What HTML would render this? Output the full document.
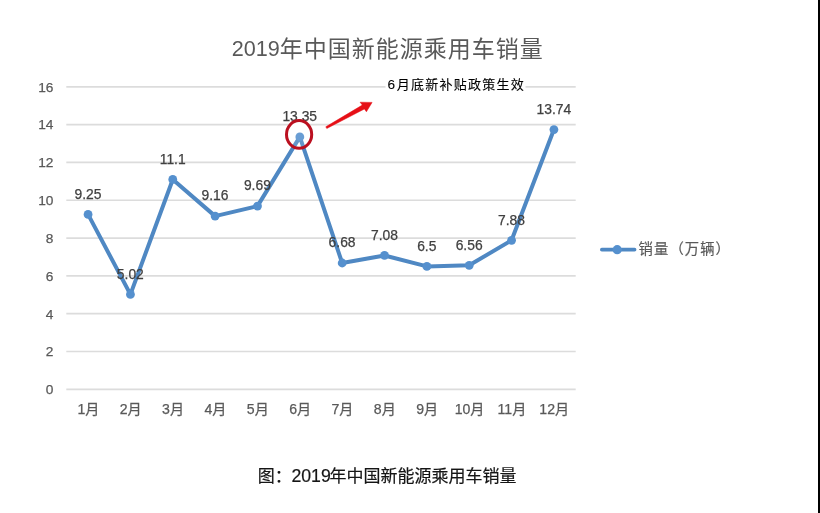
<!DOCTYPE html>
<html lang="zh-CN">
<head>
<meta charset="utf-8">
<title>2019年中国新能源乘用车销量</title>
<style>
html,body{margin:0;padding:0;background:#fff;}
body{width:820px;height:513px;overflow:hidden;position:relative;font-family:'Liberation Sans','Noto Sans CJK SC',sans-serif;}
svg{display:block;position:absolute;left:0;top:0;}
svg text{font-family:'Liberation Sans','Noto Sans CJK SC',sans-serif;}
.ax{font-size:13.7px;fill:#595959;stroke:#595959;stroke-width:0.25px;}
.axx{font-size:14.1px;}
.dl{font-size:13.85px;fill:#404040;stroke:#404040;stroke-width:0.25px;}
.ttl{font-size:23px;fill:#595959;letter-spacing:1px;}
.ttl .d{font-size:21.6px;letter-spacing:0;}
.ann{font-size:13px;fill:#000;stroke:#000;stroke-width:0.1px;letter-spacing:1.25px;}
.ann .d{font-size:13.6px;letter-spacing:1.9px;}
.lg{font-size:14.3px;fill:#595959;stroke:#595959;stroke-width:0.2px;letter-spacing:1.1px;}
.cap{font-size:17px;fill:#151515;stroke:#151515;stroke-width:0.2px;}
.cap .d{font-size:17.7px;}
</style>
</head>
<body>
<svg width="820" height="513" viewBox="0 0 820 513">
<rect x="0" y="0" width="820" height="513" fill="#ffffff"/>
<rect x="818" y="0" width="2" height="513" fill="#000000"/>

<g stroke="#dcdcdc" stroke-width="1.7" fill="none">
<line x1="66.3" y1="389.30" x2="575.7" y2="389.30"/>
<line x1="66.3" y1="351.49" x2="575.7" y2="351.49"/>
<line x1="66.3" y1="313.68" x2="575.7" y2="313.68"/>
<line x1="66.3" y1="275.86" x2="575.7" y2="275.86"/>
<line x1="66.3" y1="238.05" x2="575.7" y2="238.05"/>
<line x1="66.3" y1="200.24" x2="575.7" y2="200.24"/>
<line x1="66.3" y1="162.43" x2="575.7" y2="162.43"/>
<line x1="66.3" y1="124.61" x2="575.7" y2="124.61"/>
<line x1="66.3" y1="86.80" x2="575.7" y2="86.80"/>
</g>
<g class="ax" text-anchor="end">
<text x="53.4" y="394.15">0</text>
<text x="53.4" y="356.34">2</text>
<text x="53.4" y="318.53">4</text>
<text x="53.4" y="280.71">6</text>
<text x="53.4" y="242.90">8</text>
<text x="53.4" y="205.09">10</text>
<text x="53.4" y="167.28">12</text>
<text x="53.4" y="129.46">14</text>
<text x="53.4" y="91.65">16</text>
</g>
<g class="ax axx" text-anchor="middle">
<text x="88.38" y="414.3">1月</text>
<text x="130.73" y="414.3">2月</text>
<text x="173.08" y="414.3">3月</text>
<text x="215.43" y="414.3">4月</text>
<text x="257.78" y="414.3">5月</text>
<text x="300.13" y="414.3">6月</text>
<text x="342.48" y="414.3">7月</text>
<text x="384.82" y="414.3">8月</text>
<text x="427.18" y="414.3">9月</text>
<text x="469.53" y="414.3">10月</text>
<text x="511.88" y="414.3">11月</text>
<text x="554.23" y="414.3">12月</text>
</g>
<text class="ttl" x="231.8" y="56.0"><tspan class="d">2019</tspan><tspan dy="0.9">年中国新能源乘用车销量</tspan></text>
<rect x="385.5" y="74" width="140" height="21" fill="#ffffff"/>
<text class="ann" x="387.4" y="88.7"><tspan class="d">6</tspan>月底新补贴政策生效</text>
<ellipse cx="299.1" cy="134.4" rx="12.5" ry="13.6" fill="#ffffff" stroke="none"/>
<polyline points="88.08,214.42 130.43,294.39 172.78,179.44 215.12,216.12 257.48,206.10 299.83,136.90 342.18,263.01 384.52,255.44 426.88,266.41 469.23,265.28 511.58,240.32 553.93,129.53" fill="none" stroke="#4f88c3" stroke-width="4" stroke-linejoin="round" stroke-linecap="round"/>
<g fill="#5590ce">
<circle cx="88.08" cy="214.42" r="4.4"/>
<circle cx="130.43" cy="294.39" r="4.4"/>
<circle cx="172.78" cy="179.44" r="4.4"/>
<circle cx="215.12" cy="216.12" r="4.4"/>
<circle cx="257.48" cy="206.10" r="4.4"/>
<circle cx="299.83" cy="136.90" r="4.4"/>
<circle cx="342.18" cy="263.01" r="4.4"/>
<circle cx="384.52" cy="255.44" r="4.4"/>
<circle cx="426.88" cy="266.41" r="4.4"/>
<circle cx="469.23" cy="265.28" r="4.4"/>
<circle cx="511.58" cy="240.32" r="4.4"/>
<circle cx="553.93" cy="129.53" r="4.4"/>
</g>
<g class="dl" text-anchor="middle">
<text x="87.98" y="198.72">9.25</text>
<text x="130.33" y="278.69">5.02</text>
<text x="172.68" y="163.74">11.1</text>
<text x="215.03" y="200.42">9.16</text>
<text x="257.38" y="190.40">9.69</text>
<text x="299.73" y="121.20">13.35</text>
<text x="342.08" y="247.31">6.68</text>
<text x="384.42" y="239.74">7.08</text>
<text x="426.77" y="250.71">6.5</text>
<text x="469.12" y="249.58">6.56</text>
<text x="511.48" y="224.62">7.88</text>
<text x="553.83" y="113.83">13.74</text>
</g>
<ellipse cx="299.1" cy="134.4" rx="12.6" ry="13.8" fill="#ffffff" fill-opacity="0.12" stroke="#bb1020" stroke-width="3"/>
<path d="M325.8 126.8 L362.3 105.1 L360.1 102.2 L372.1 102.4 L366.4 111.8 L364.4 109.0 L326.8 128.5 Z" fill="#e60f16" stroke="#e60f16" stroke-width="0.5" stroke-linejoin="round"/>
<line x1="601.8" y1="249.65" x2="634.6" y2="249.65" stroke="#4f88c3" stroke-width="3.6" stroke-linecap="round"/>
<circle cx="617.2" cy="249.65" r="4.6" fill="#5590ce"/>
<text class="lg" x="638.6" y="253.7">销量（万辆）</text>
<text class="cap" x="257.8" y="482.4">图：<tspan class="d" x="291.4">2019</tspan><tspan x="329.6">年</tspan>中国新能源乘用车销量</text>
</svg>
</body>
</html>
